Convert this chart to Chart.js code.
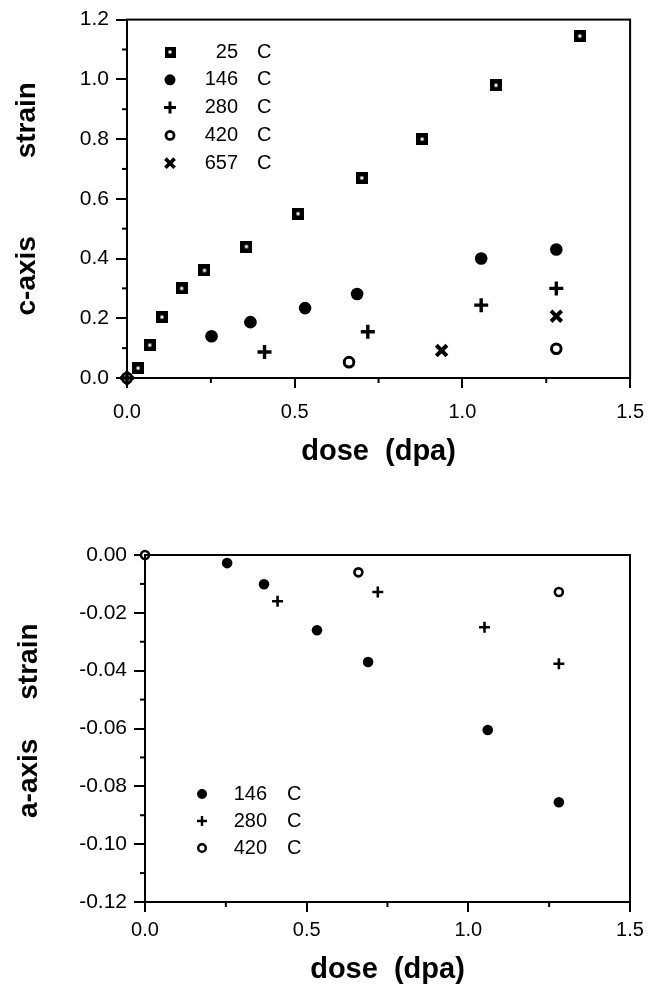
<!DOCTYPE html>
<html>
<head>
<meta charset="utf-8">
<script src="https://cdn.jsdelivr.net/npm/chart.js@4.4.1/dist/chart.umd.min.js"></script>
<style>
  html, body { margin: 0; padding: 0; background: #fff; }
  #topBox { position: absolute; left: 0; top: 0; }
  #botBox { position: absolute; left: 0; top: 500px; }
</style>
</head>
<body>
<div id="topBox"><canvas id="cChart" width="656" height="490"></canvas></div>
<div id="botBox"><canvas id="aChart" width="656" height="489"></canvas></div>
<script>
// c-axis strain (top panel)
const dose25 = [0.033, 0.068, 0.104, 0.163, 0.231, 0.356, 0.51, 0.70, 0.88, 1.10, 1.35];
const c25 = [0.033, 0.11, 0.204, 0.30, 0.36, 0.44, 0.55, 0.67, 0.80, 0.98, 1.145];
const dose146 = [0.252, 0.368, 0.531, 0.686, 1.056, 1.28];
const c146 = [0.14, 0.187, 0.234, 0.281, 0.40, 0.43];
const dose280 = [0, 0.41, 0.718, 1.056, 1.28];
const c280 = [0, 0.087, 0.155, 0.244, 0.30];
const dose420 = [0, 0.662, 1.28];
const c420 = [0, 0.053, 0.098];
const dose657 = [0.938, 1.28];
const c657 = [0.092, 0.207];

// a-axis strain (bottom panel)
const aDose146 = [0.254, 0.368, 0.532, 0.69, 1.06, 1.28];
const a146 = [-0.0028, -0.0101, -0.026, -0.037, -0.0605, -0.0855];
const aDose280 = [0.41, 0.72, 1.05, 1.28];
const a280 = [-0.016, -0.0128, -0.025, -0.0376];
const aDose420 = [0, 0.66, 1.28];
const a420 = [0, -0.006, -0.0128];

const cTicks = [0, 0.2, 0.4, 0.6, 0.8, 1.0, 1.2];
const aTicks = [0, -0.02, -0.04, -0.06, -0.08, -0.10, -0.12];
const doseTicks = [0, 0.5, 1.0, 1.5];

const FONT = "'Liberation Sans', Arial, Helvetica, sans-serif";

function pts(xs, ys) {
  return xs.map((x, i) => ({ x: x, y: ys[i] }));
}

// black square with a small white hole
function squareMarker(size, hole) {
  const c = document.createElement("canvas");
  c.width = size; c.height = size;
  const g = c.getContext("2d");
  g.fillStyle = "#000";
  g.fillRect(0, 0, size, size);
  g.fillStyle = "#fff";
  const o = (size - hole) / 2;
  g.fillRect(o, o, hole, hole);
  return c;
}

// frame around the plot area
const framePlugin = {
  id: "frame",
  afterDraw(chart) {
    const { ctx, chartArea: a } = chart;
    ctx.save();
    ctx.strokeStyle = "#000";
    ctx.lineWidth = 2;
    ctx.strokeRect(a.left, a.top, a.right - a.left, a.bottom - a.top);
    ctx.restore();
  },
};

// short ticks between the labelled ones
const minorTicksPlugin = {
  id: "minorTicks",
  afterDraw(chart, args, opts) {
    const { ctx, chartArea: a } = chart;
    const { x, y } = chart.scales;
    ctx.save();
    ctx.strokeStyle = "#000";
    ctx.lineWidth = 2;
    let n = Math.round((x.max - x.min) / opts.x);
    for (let i = 1; i < n; i += 2) {
      const px = x.getPixelForValue(x.min + i * opts.x);
      ctx.beginPath(); ctx.moveTo(px, a.bottom); ctx.lineTo(px, a.bottom + opts.len); ctx.stroke();
    }
    n = Math.round((y.max - y.min) / opts.y);
    for (let i = 1; i < n; i += 2) {
      const py = y.getPixelForValue(y.min + i * opts.y);
      ctx.beginPath(); ctx.moveTo(a.left, py); ctx.lineTo(a.left - opts.len, py); ctx.stroke();
    }
    ctx.restore();
  },
};

// legend inside the plot: marker, right-aligned number, "C"
const innerLegendPlugin = {
  id: "innerLegend",
  afterDraw(chart, args, opts) {
    const ctx = chart.ctx;
    ctx.save();
    ctx.font = opts.size + "px " + FONT;
    ctx.textBaseline = "middle";
    chart.data.datasets.forEach((ds, i) => {
      const y = opts.y + i * opts.dy;
      const st = ds.legendStyle;
      ctx.fillStyle = ds.backgroundColor;
      ctx.strokeStyle = ds.borderColor;
      ctx.lineWidth = st.borderWidth;
      Chart.helpers.drawPoint(ctx, { pointStyle: st.pointStyle, radius: st.radius, borderWidth: st.borderWidth, rotation: 0 }, opts.markerX, y);
      const parts = ds.label.split(" ");
      ctx.fillStyle = "#000";
      ctx.textAlign = "right";
      ctx.fillText(parts[0], opts.numRight, y);
      ctx.textAlign = "left";
      ctx.fillText(parts[1], opts.unitX, y);
    });
    ctx.restore();
  },
};

function axisOptions(min, max, ticks, digits, yFit, xFit, xTitle, yTitle, xTitlePad, yTitlePad, xTickPad) {
  return {
    x: {
      type: "linear",
      min: 0, max: 1.5,
      afterFit: (s) => { s.height = xFit; },
      afterBuildTicks: (s) => { s.ticks = doseTicks.map((v) => ({ value: v })); },
      ticks: {
        color: "#000",
        font: { family: FONT, size: 20 },
        padding: xTickPad,
        maxRotation: 0,
        callback: (v) => v.toFixed(1),
      },
      grid: { drawOnChartArea: false, tickLength: 10, color: "#000", lineWidth: 2 },
      border: { color: "#000", width: 2 },
      title: {
        display: true, text: xTitle, color: "#000",
        font: { family: FONT, size: 29, weight: "bold", lineHeight: 1 },
        padding: { top: 0, bottom: xTitlePad },
      },
    },
    y: {
      type: "linear",
      min: min, max: max,
      afterFit: (s) => { s.width = yFit; },
      afterBuildTicks: (s) => { s.ticks = ticks.map((v) => ({ value: v })); },
      ticks: {
        color: "#000",
        font: { family: FONT, size: 21 },
        padding: 7,
        callback: (v) => v.toFixed(digits),
      },
      grid: { drawOnChartArea: false, tickLength: 11, color: "#000", lineWidth: 2 },
      border: { color: "#000", width: 2 },
      title: {
        display: true, text: yTitle, color: "#000",
        font: { family: FONT, size: 28, weight: "bold", lineHeight: 1 },
        padding: { top: yTitlePad, bottom: 0 },
      },
    },
  };
}

const bigSquare = squareMarker(12, 3);
const smallSquare = squareMarker(11, 3);

new Chart(document.getElementById("cChart"), {
  type: "scatter",
  data: {
    datasets: [
      {
        label: "25 C", data: pts(dose25, c25),
        pointStyle: bigSquare, pointRadius: 6, backgroundColor: "#000", borderColor: "#000", borderWidth: 0,
        legendStyle: { pointStyle: smallSquare, radius: 5, borderWidth: 0 },
      },
      {
        label: "146 C", data: pts(dose146, c146),
        pointStyle: "circle", pointRadius: 6.3, backgroundColor: "#000", borderColor: "#000", borderWidth: 0,
        legendStyle: { pointStyle: "circle", radius: 5.5, borderWidth: 0 },
      },
      {
        label: "280 C", data: pts(dose280, c280),
        pointStyle: "cross", pointRadius: 7, backgroundColor: "#000", borderColor: "#000", borderWidth: 3.4,
        legendStyle: { pointStyle: "cross", radius: 6, borderWidth: 3 },
      },
      {
        label: "420 C", data: pts(dose420, c420),
        pointStyle: "circle", pointRadius: 4.8, backgroundColor: "#fff", borderColor: "#000", borderWidth: 3,
        legendStyle: { pointStyle: "circle", radius: 4, borderWidth: 2.8 },
      },
      {
        label: "657 C", data: pts(dose657, c657),
        pointStyle: "crossRot", pointRadius: 7.5, backgroundColor: "#000", borderColor: "#000", borderWidth: 4,
        legendStyle: { pointStyle: "crossRot", radius: 6.5, borderWidth: 3.6 },
      },
    ],
  },
  options: {
    responsive: false,
    animation: false,
    clip: false,
    layout: { padding: { left: 0, right: 23, top: 19, bottom: 0 } },
    scales: axisOptions(0, 1.2, cTicks, 1, 127, 112, "dose  (dpa)", "c-axis          strain", 24, 13, 12),
    plugins: {
      legend: { display: false },
      tooltip: { enabled: false },
      minorTicks: { x: 0.25, y: 0.1, len: 5 },
      innerLegend: { markerX: 170, y: 52, dy: 27.8, numRight: 238, unitX: 257, size: 20 },
    },
  },
  plugins: [framePlugin, minorTicksPlugin, innerLegendPlugin],
});

new Chart(document.getElementById("aChart"), {
  type: "scatter",
  data: {
    datasets: [
      {
        label: "146 C", data: pts(aDose146, a146),
        pointStyle: "circle", pointRadius: 5.3, backgroundColor: "#000", borderColor: "#000", borderWidth: 0,
        legendStyle: { pointStyle: "circle", radius: 5, borderWidth: 0 },
      },
      {
        label: "280 C", data: pts(aDose280, a280),
        pointStyle: "cross", pointRadius: 5.5, backgroundColor: "#000", borderColor: "#000", borderWidth: 2.6,
        legendStyle: { pointStyle: "cross", radius: 5, borderWidth: 2.4 },
      },
      {
        label: "420 C", data: pts(aDose420, a420),
        pointStyle: "circle", pointRadius: 4, backgroundColor: "#fff", borderColor: "#000", borderWidth: 2.6,
        legendStyle: { pointStyle: "circle", radius: 3.8, borderWidth: 2.5 },
      },
    ],
  },
  options: {
    responsive: false,
    animation: false,
    clip: false,
    layout: { padding: { left: 0, right: 26, top: 55, bottom: 0 } },
    scales: axisOptions(-0.12, 0, aTicks, 2, 145, 87, "dose  (dpa)", "  a-axis     strain", 5, 15, 6),
    plugins: {
      legend: { display: false },
      tooltip: { enabled: false },
      minorTicks: { x: 0.25, y: 0.01, len: 5 },
      innerLegend: { markerX: 202, y: 294, dy: 27, numRight: 267, unitX: 287, size: 20 },
    },
  },
  plugins: [framePlugin, minorTicksPlugin, innerLegendPlugin],
});
</script>
</body>
</html>
